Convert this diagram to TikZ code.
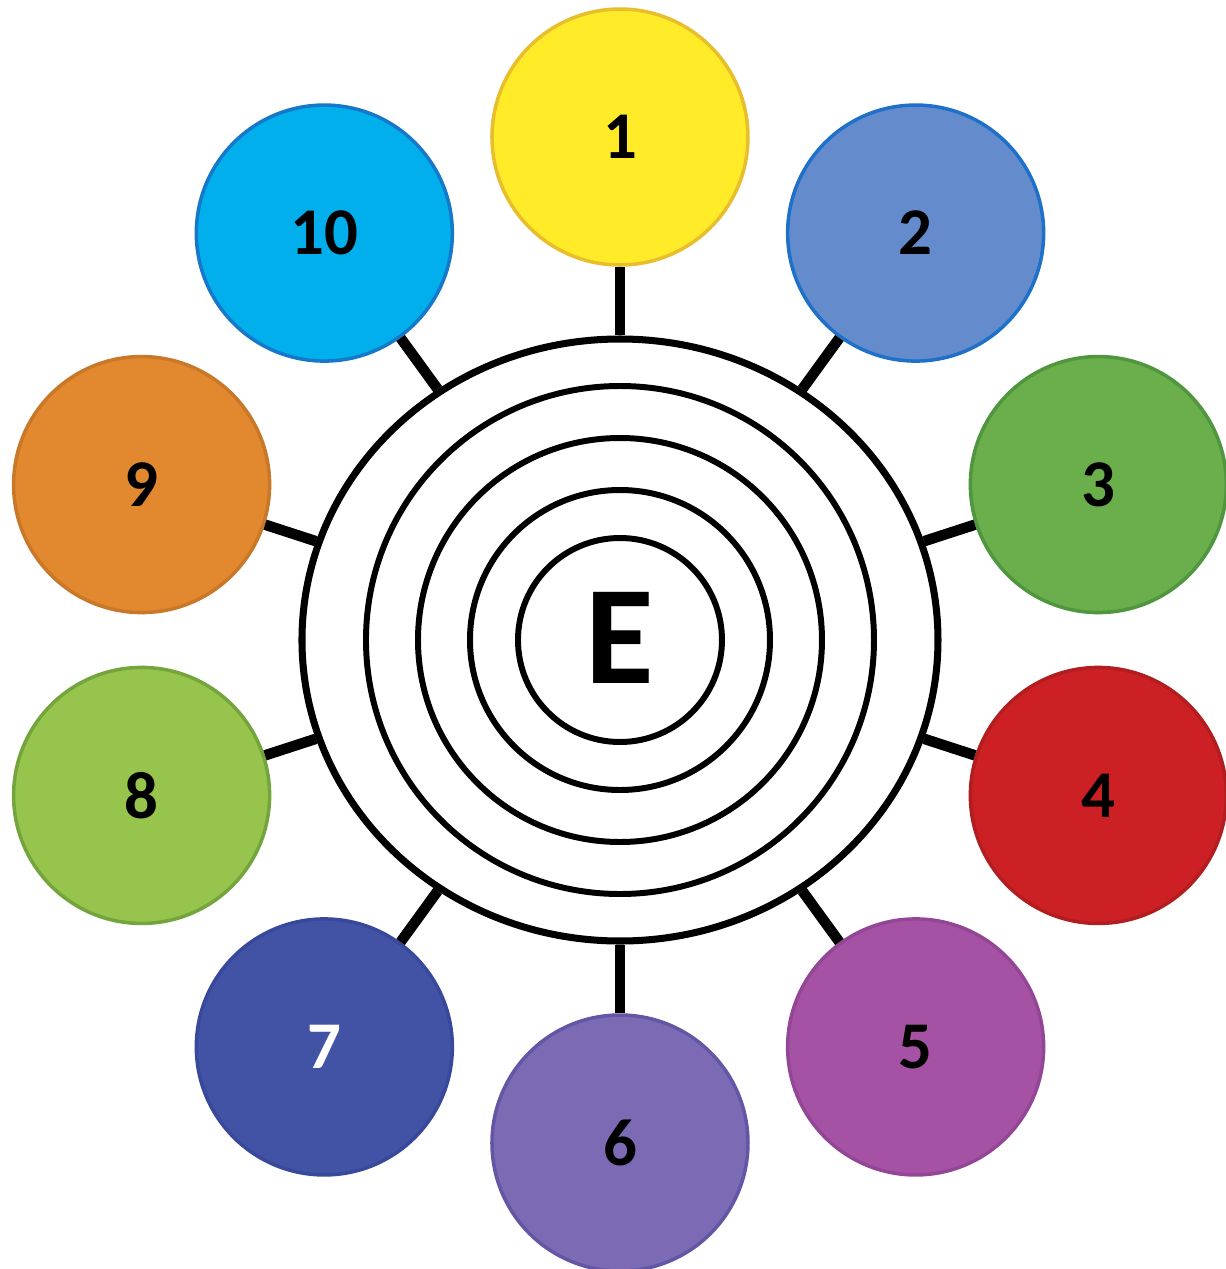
\documentclass[tikz,border=0pt]{standalone}
\usepackage{fontspec}
\setmainfont{Carlito}
\usepackage{tikz}
\usetikzlibrary{shapes.geometric}
\definecolor{fill1}{RGB}{255,235,40}   \definecolor{edge1}{RGB}{232,190,45}
\definecolor{fill2}{RGB}{100,140,205}  \definecolor{edge2}{RGB}{30,112,200}
\definecolor{fill3}{RGB}{106,175,76}   \definecolor{edge3}{RGB}{80,150,62}
\definecolor{fill4}{RGB}{205,32,36}    \definecolor{edge4}{RGB}{178,30,32}
\definecolor{fill5}{RGB}{165,82,165}   \definecolor{edge5}{RGB}{148,70,150}
\definecolor{fill6}{RGB}{125,106,180}  \definecolor{edge6}{RGB}{100,86,165}
\definecolor{fill7}{RGB}{66,82,165}    \definecolor{edge7}{RGB}{56,72,155}
\definecolor{fill8}{RGB}{150,196,76}   \definecolor{edge8}{RGB}{116,165,60}
\definecolor{fill9}{RGB}{226,136,46}   \definecolor{edge9}{RGB}{200,120,40}
\definecolor{fill10}{RGB}{0,175,236}   \definecolor{edge10}{RGB}{22,120,200}

\begin{document}
\begin{tikzpicture}[
    satellite/.style={circle, minimum size=2.56cm, line width=1pt,
        font=\fontsize{19}{19}\selectfont\bfseries},
    ringline/.style={circle, draw, line width=1.7pt}]
    \useasboundingbox (-6.20,-6.29) rectangle (6.06,6.40);
    % rings
    \node[ellipse, draw, line width=2pt, minimum width=6.36cm, minimum height=6.02cm] (outer) at (0,0) {};
    \foreach \d/\n in {5.08/ringb, 4.04/ringc, 3.00/ringd, 2.04/ringe} {
        \node[ringline, minimum size=\d cm] (\n) at (0,0) {};
    }
    \node[font=\fontsize{40}{40}\selectfont\bfseries] (E) at (0,0.02) {E};
    % satellites
    \foreach \i/\t in {1/black,2/black,3/black,4/black,5/black,6/black,7/white,8/black,9/black,10/black} {
        \node[satellite, fill=fill\i, draw=edge\i, text=\t] (s\i) at ({90-36*(\i-1)}:5.03) {\i};
        \draw[line width=3pt] (outer) -- (s\i);
    }
\end{tikzpicture}
\end{document}
